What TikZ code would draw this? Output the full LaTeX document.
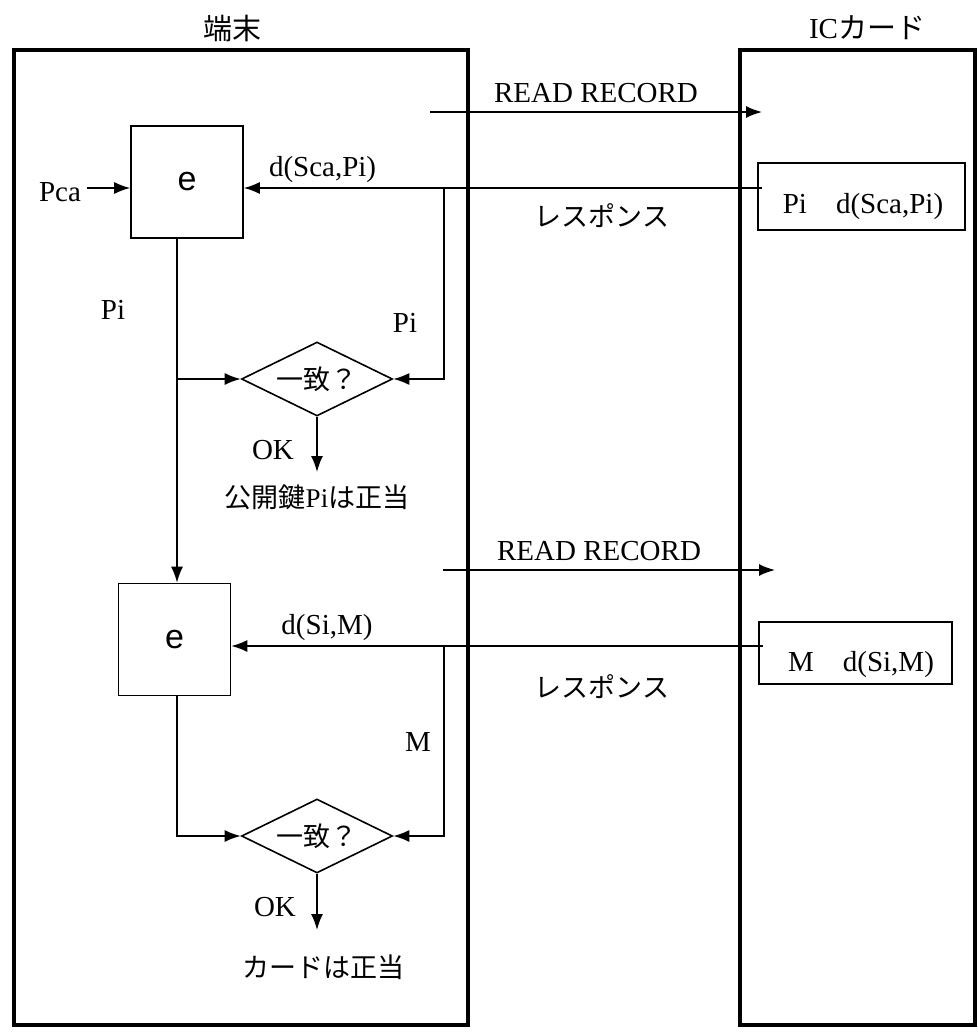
\documentclass[tikz,border=0pt]{standalone}
\usepackage{fontspec}
\setmainfont{Liberation Serif}
\newfontfamily\jfont{Noto Sans CJK JP}
\newfontfamily\efont{Liberation Sans}
\usetikzlibrary{arrows.meta,shapes.geometric}

\begin{document}
\begin{tikzpicture}[
		x=0.5pt, y=-0.5pt,
		>={Latex[length=8pt,width=6pt]},
		panel/.style={
			rectangle, draw=black, line width=2pt,
			inner sep=0pt, minimum height=487.5pt
		},
		ebox/.style={
			rectangle, draw=black, line width=0.8pt,
			minimum width=56pt, minimum height=56pt, inner sep=0pt,
			font=\efont\fontsize{17}{20}\selectfont
		},
		cmp/.style={
			diamond, aspect=2, draw=black, line width=0.8pt,
			minimum width=75.5pt, minimum height=37pt, inner sep=0pt,
			font=\jfont\fontsize{13.5}{16}\selectfont
		},
		recbox/.style={
			rectangle, draw=black, line width=0.8pt, inner sep=0pt
		},
		lbl/.style={font=\fontsize{14.5}{17}\selectfont, inner sep=1pt},
		jlbl/.style={font=\jfont\fontsize{13.5}{16}\selectfont, inner sep=1pt},
		head/.style={font=\jfont\fontsize{14.5}{17}\selectfont, inner sep=1pt},
		arr/.style={->, line width=0.8pt}
		]
		\useasboundingbox (0,0) rectangle (978,1033);
		
		% two parties
		\node[head] (hterm) at (232,28) {端末};
		\node[head] (hcard) at (867,28) {{\rmfamily IC}カード};
		\node[panel, minimum width=227pt] (term) at (241,537.5) {};
		\node[panel, minimum width=117.5pt] (card) at (857.5,537.5) {};
		\coordinate (trunk) at (177,0);
		
		% first exchange: certificate of the public key
		\coordinate (rr1) at (430,112);
		\coordinate (rr1end) at (762,112);
		\draw[arr] (rr1) -- node[lbl, above=3pt] {READ RECORD} (rr1end);
		\node[recbox, minimum width=103.5pt, minimum height=33.5pt] (rec1) at (861.5,196.5) {};
		\node[lbl] (rec1txt) at (863,207) {Pi\quad d(Sca,Pi)};
		\node[ebox] (e1) at (187,182) {e};
		\coordinate (resp1) at (762,188);
		\coordinate (br1) at (444,188);
		\draw[arr] (resp1) -- node[lbl, above=1.5pt, pos=0.848] {d(Sca,Pi)} (resp1 -| e1.east);
		\node[jlbl] (resp1lbl) at (602,216) {レスポンス};
		\node[lbl] (pca) at (60,192) {Pca};
		\draw[arr] (pca.east |- resp1) ++(4,0) -- (resp1 -| e1.west);
		
		\node[cmp] (dm1) at (317,379) {一致？};
		\node[lbl] (pi1) at (113,310) {Pi};
		\node[lbl] (pi2) at (405,323) {Pi};
		\draw[arr] (br1) |- (dm1.east);
		\draw[arr] (dm1.west -| trunk) -- (dm1.west);
		\coordinate (ok1end) at (317,472);
		\draw[arr] (dm1.south) -- (ok1end);
		\node[lbl] (ok1) at (273,450) {OK};
		\node[jlbl] (res1) at (317,497) {公開鍵{\rmfamily Pi}は正当};
		
		% second exchange: signed data of the card
		\node[ebox] (e2) at (174.5,639.5) {e};
		\draw[arr] (e1.south -| trunk) -- (e2.north -| trunk);
		\coordinate (rr2) at (443,570);
		\coordinate (rr2end) at (775,570);
		\draw[arr] (rr2) -- node[lbl, above=3pt, pos=0.47] {READ RECORD} (rr2end);
		\node[recbox, minimum width=96.5pt, minimum height=31pt] (rec2) at (855.5,653) {};
		\node[lbl] (rec2txt) at (861,665) {M\quad d(Si,M)};
		\coordinate (resp2) at (763,646);
		\coordinate (br2) at (444,646);
		\draw[arr] (resp2) -- node[lbl, above=1.5pt, pos=0.82] {d(Si,M)} (resp2 -| e2.east);
		\node[jlbl] (resp2lbl) at (602,687) {レスポンス};
		
		\node[cmp] (dm2) at (317,836) {一致？};
		\node[lbl] (m1) at (418,742) {M};
		\draw[arr] (br2) |- (dm2.east);
		\draw[arr] (e2.south -| trunk) |- (dm2.west);
		\coordinate (ok2end) at (317,930);
		\draw[arr] (dm2.south) -- (ok2end);
		\node[lbl] (ok2) at (275,907) {OK};
		\node[jlbl] (res2) at (323,967) {カードは正当};
\end{tikzpicture}
\end{document}
